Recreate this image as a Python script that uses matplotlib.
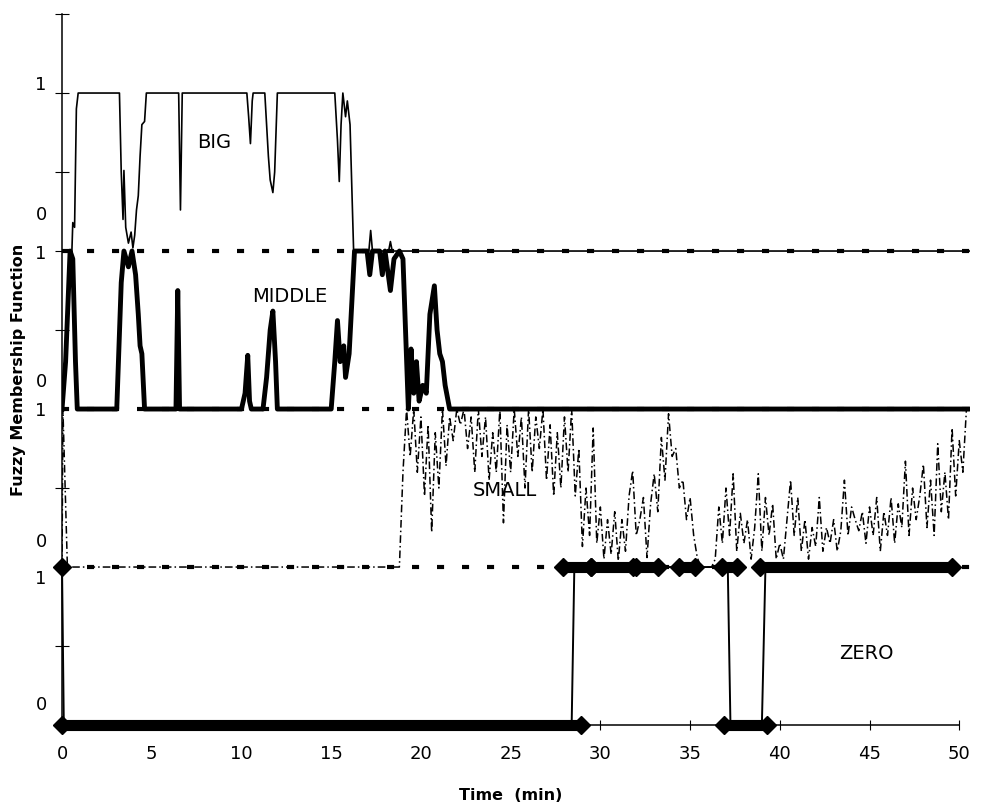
import numpy as np
import matplotlib.pyplot as plt

plt.rcParams['font.family'] = ['DejaVu Sans']

# membership values (0..1) for each fuzzy set over time [min]
big_t = [0, 0.55, 0.6, 0.7, 0.8, 0.9, 3.2, 3.3, 3.4, 3.45, 3.55, 3.7, 3.85, 3.95,
         4.05, 4.15, 4.25, 4.35, 4.45, 4.6, 4.7, 6.5, 6.6, 6.7, 10.3, 10.4, 10.5,
         10.6, 10.65, 11.3, 11.5, 11.6, 11.75, 11.85, 12.0, 15.2, 15.35, 15.45,
         15.55, 15.65, 15.8, 15.9, 16.05, 16.15, 16.25, 17.1, 17.2, 17.3, 18.2,
         18.3, 18.4, 50.6]
big_v = [0, 0, 0.18, 0.15, 0.9, 1, 1, 0.5, 0.2, 0.51, 0.15, 0.05, 0.12, 0.02,
         0.1, 0.26, 0.35, 0.6, 0.8, 0.82, 1, 1, 0.26, 1, 1, 0.85, 0.68,
         0.95, 1, 1, 0.6, 0.45, 0.37, 0.5, 1, 1, 0.7, 0.44,
         0.8, 1, 0.85, 0.95, 0.8, 0.4, 0, 0, 0.13, 0, 0,
         0.06, 0, 0]

middle_t = [0, 0.2, 0.45, 0.6, 0.75, 0.85, 3.05, 3.3, 3.45, 3.7, 3.9, 4.1, 4.25,
            4.35, 4.45, 4.6, 6.35, 6.45, 6.55, 10.0, 10.2, 10.35, 10.45, 10.55,
            11.2, 11.4, 11.6, 11.75, 11.9, 12.0, 15.0, 15.2, 15.35, 15.5, 15.7,
            15.8, 16.0, 16.3, 17.0, 17.15, 17.3, 17.7, 17.85, 18.0, 18.3, 18.5,
            18.8, 19.0, 19.3, 19.45, 19.6, 19.75, 19.9, 20.1, 20.3, 20.5, 20.75,
            20.9, 21.05, 21.2, 21.35, 21.6, 50.6]
middle_v = [0, 0.3, 1, 0.95, 0.3, 0, 0, 0.8, 1, 0.9, 1, 0.85, 0.6,
            0.4, 0.35, 0, 0, 0.75, 0, 0, 0.1, 0.34, 0.05, 0,
            0, 0.2, 0.5, 0.62, 0.3, 0, 0, 0.3, 0.56, 0.3, 0.4,
            0.2, 0.35, 1, 1, 0.85, 1, 1, 0.85, 1, 0.75, 0.95,
            1, 0.95, 0, 0.38, 0.1, 0.3, 0.05, 0.15, 0.1, 0.6, 0.78,
            0.5, 0.35, 0.3, 0.15, 0, 0]

small_head_t = [0, 0.05, 0.3]
small_head_v = [0, 1, 0]
small_start, small_step = 18.8, 0.2
small_v = [0.0, 0.6, 1.0, 0.7, 1.0, 0.6, 0.95, 0.45, 0.9, 0.22,
           0.85, 0.5, 1.0, 0.64, 0.95, 0.8, 1.0, 0.9, 1.0, 0.75,
           0.95, 0.6, 1.0, 0.7, 0.95, 0.55, 0.85, 0.6, 1.0, 0.28,
           0.9, 0.6, 1.0, 0.7, 0.95, 0.5, 1.0, 0.6, 0.95, 0.75,
           1.0, 0.55, 0.9, 0.45, 0.85, 0.5, 0.95, 0.6, 1.0, 0.45,
           0.75, 0.13, 0.5, 0.2, 0.88, 0.15, 0.38, 0.05, 0.3, 0.08,
           0.35, 0.04, 0.3, 0.1, 0.45, 0.61, 0.2, 0.3, 0.44, 0.06,
           0.4, 0.59, 0.35, 0.82, 0.55, 0.97, 0.7, 0.75, 0.5, 0.55,
           0.3, 0.44, 0.2, 0.06, 0.0, 0.0, 0.0, 0.0, 0.05, 0.38,
           0.15, 0.5, 0.2, 0.59, 0.1, 0.34, 0.15, 0.3, 0.05, 0.25,
           0.59, 0.1, 0.44, 0.2, 0.4, 0.05, 0.15, 0.05, 0.3, 0.55,
           0.2, 0.44, 0.1, 0.3, 0.05, 0.25, 0.13, 0.44, 0.1, 0.25,
           0.15, 0.3, 0.1, 0.23, 0.55, 0.2, 0.38, 0.3, 0.23, 0.35,
           0.15, 0.38, 0.2, 0.44, 0.1, 0.35, 0.2, 0.44, 0.15, 0.4,
           0.25, 0.67, 0.2, 0.5, 0.3, 0.45, 0.65, 0.25, 0.55, 0.2,
           0.78, 0.35, 0.6, 0.3, 0.88, 0.45, 0.8, 0.6, 1.0]

zero_t = [0, 0.1, 28.4, 28.55, 37.1, 37.25, 39.0, 39.2, 49.6]
zero_v = [1, 0, 0, 1, 1, 0, 0, 1, 1]
# stretches where the ZERO samples are drawn as diamond markers
zero_bands = [(0.0, 28.9, 0), (36.9, 39.3, 0), (27.9, 29.5, 1), (29.5, 31.8, 1),
              (32.0, 33.2, 1), (34.4, 35.3, 1), (36.8, 37.6, 1), (38.9, 49.6, 1)]

# each set is stacked in its own band of height 2 on the y axis
offsets = {'ZERO': 0, 'SMALL': 2, 'MIDDLE': 4, 'BIG': 6}
scale = 2
set_labels = ['BIG', 'MIDDLE', 'SMALL', 'ZERO']
set_label_pos = [(8.5, 7.37), (12.7, 5.43), (24.7, 2.97), (44.8, 0.91)]

ytick_pos = [8.13, 6.48, 5.99, 4.37, 4.0, 2.34, 1.87, 0.28]
ytick_lab = ['1', '0', '1', '0', '1', '0', '1', '0']
xticks = np.arange(0, 51, 5)

fig = plt.figure(figsize=(9.86, 8.11), dpi=100)
ax = fig.add_axes([0.0629, 0.106, 0.9209, 0.8767])

# dashed base lines between the stacked sets
for lev in (2, 4, 6):
    ax.plot([0, 50.6], [lev, lev], color='black', lw=3,
            linestyle=(0, (1.7, 4.3)), solid_capstyle='butt')

ax.plot(big_t, scale * np.array(big_v) + offsets['BIG'], color='black', lw=1.2)
ax.plot(middle_t, scale * np.array(middle_v) + offsets['MIDDLE'],
        color='black', lw=3.5)

small_t = small_start + small_step * np.arange(len(small_v))
st = np.concatenate([small_head_t, small_t])
sv = scale * np.concatenate([small_head_v, small_v]) + offsets['SMALL']
ax.plot(st, sv, color='black', lw=1.1, linestyle=(0, (5, 2, 1, 2)))

ax.plot(zero_t, scale * np.array(zero_v) + offsets['ZERO'], color='black',
        lw=1.4, clip_on=False)
for t0, t1, v in zero_bands:
    yv = scale * v + offsets['ZERO']
    ax.plot([t0, t1], [yv, yv], color='black', lw=8,
            solid_capstyle='butt', marker='D', ms=9, markevery=[0, -1],
            clip_on=False, zorder=3)
ax.plot([zero_t[0]], [scale * zero_v[0]], marker='D', ms=9, color='black',
        clip_on=False, zorder=3)

for name, (tx, ty) in zip(set_labels, set_label_pos):
    ax.text(tx, ty, name, fontsize=14, ha='center', va='center')

ax.set_xlim(0, 50.6)
ax.set_ylim(0, 9)
ax.spines['top'].set_visible(False)
ax.spines['right'].set_visible(False)
ax.spines['bottom'].set_bounds(0, 50)
for s in ('left', 'bottom'):
    ax.spines[s].set_linewidth(1.1)

ax.set_xticks(xticks)
ax.set_xticklabels([str(x) for x in xticks])
ax.tick_params(axis='x', direction='inout', length=7, width=0.8, pad=11,
               labelsize=13)

ax.set_yticks(ytick_pos)
ax.set_yticklabels(ytick_lab)
ax.set_yticks(np.arange(0, 10), minor=True)
ax.tick_params(axis='y', which='major', length=0, pad=11, labelsize=13)
ax.tick_params(axis='y', which='minor', direction='inout', length=10, width=0.8)

fig.text(0.019, 1 - 370 / 811, 'Fuzzy Membership Function', rotation=90,
         ha='center', va='center', fontsize=11.5, fontweight='bold')
fig.text(511 / 986, 1 - 796 / 811, 'Time  (min)', ha='center', va='center',
         fontsize=11.5, fontweight='bold')

fig.savefig('out.png', dpi=100)
